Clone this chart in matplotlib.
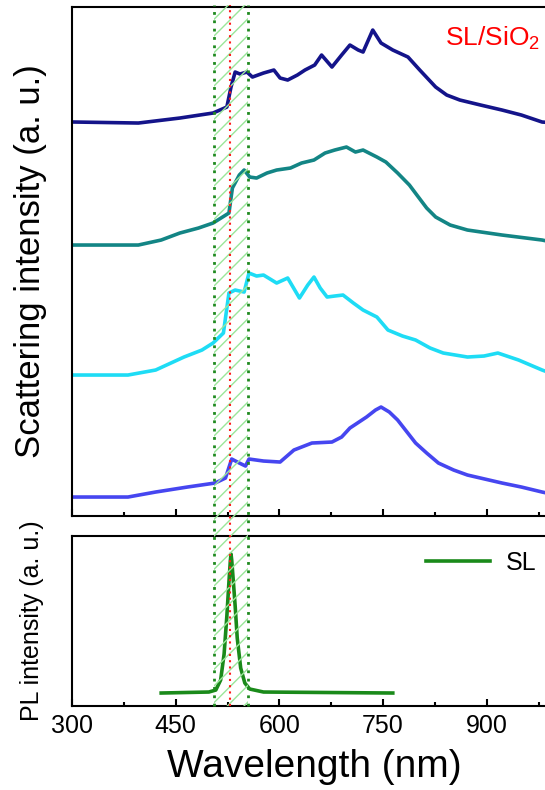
import numpy as np
import matplotlib
matplotlib.use("Agg")
import matplotlib.pyplot as plt
from matplotlib.patches import Rectangle
from matplotlib.lines import Line2D
from matplotlib.ticker import MultipleLocator
import matplotlib.transforms as mtransforms

plt.rcParams['font.family'] = ['Liberation Sans', 'DejaVu Sans']
plt.rcParams['mathtext.default'] = 'regular'
plt.rcParams['hatch.linewidth'] = 1.0

# scattering spectra (a. u.)
wl_navy = [304, 396, 456, 504, 524, 530, 536, 543, 553, 561, 577, 592, 601, 612, 626, 637, 651, 661,
           676, 690, 702, 714, 721, 735, 747, 764, 786, 803, 826, 842, 861, 891, 922, 950, 980, 1000]
sc_navy = [394, 393, 398, 403, 409, 429, 444, 442, 444, 439, 443, 446, 438, 436, 441, 446, 451, 461,
           449, 461, 471, 466, 464, 486, 473, 466, 459, 446, 429, 421, 416, 411, 406, 401, 394, 393]

wl_teal = [304, 396, 429, 456, 483, 504, 527, 532, 542, 549, 557, 567, 582, 596, 616, 632, 650,
           666, 680, 697, 710, 721, 741, 754, 771, 788, 801, 813, 826, 847, 872, 922, 980, 1000]
sc_teal = [271, 271, 276, 283, 288, 293, 303, 328, 341, 346, 339, 338, 343, 346, 348, 353, 356,
           363, 366, 369, 364, 366, 359, 354, 343, 331, 319, 308, 299, 291, 286, 281, 276, 273]

wl_cyan = [304, 381, 421, 462, 488, 504, 519, 527, 536, 549, 556, 567, 577, 596, 612, 629, 641, 650,
           659, 669, 680, 692, 707, 721, 741, 757, 778, 797, 818, 837, 872, 896, 916, 946, 980, 1000]
sc_cyan = [141, 141, 146, 159, 166, 173, 183, 223, 226, 224, 243, 240, 241, 233, 238, 218, 231, 239,
           228, 219, 220, 221, 213, 206, 199, 186, 180, 176, 168, 163, 159, 160, 163, 156, 146, 141]

wl_blue = [304, 381, 421, 467, 507, 522, 531, 542, 551, 556, 577, 601, 621, 647, 676, 690,
           702, 726, 739, 747, 759, 771, 797, 813, 830, 852, 872, 922, 950, 980, 1000]
sc_blue = [19, 19, 24, 29, 33, 38, 57, 53, 50, 57, 55, 54, 66, 73, 74, 79,
           88, 99, 106, 109, 104, 96, 73, 63, 53, 46, 41, 33, 29, 24, 21]

# PL spectrum of SL
wl_pl = [429, 498, 508, 515, 520, 524, 527, 529, 530, 531, 533, 536, 539, 544, 550, 557, 577, 764]
pl = [13, 14, 16, 26, 52, 90, 124, 145, 152, 146, 128, 100, 68, 38, 23, 17, 14, 13]

band = (506, 554)
red_line = 529

fig = plt.figure(figsize=(5.45, 7.9), dpi=100)
ax_top = fig.add_axes([0.1321, 0.3468, 0.888, 0.6443])
ax_bot = fig.add_axes([0.1321, 0.1063, 0.888, 0.2152])

ax_top.plot(wl_navy, sc_navy, color='#14148a', lw=2.6)
ax_top.plot(wl_teal, sc_teal, color='#138585', lw=2.6)
ax_top.plot(wl_cyan, sc_cyan, color='#1edcf5', lw=2.6)
ax_top.plot(wl_blue, sc_blue, color='#4646f0', lw=2.6)
ax_top.set_ylim(0, 509)
ax_top.text(840, 470, 'SL/SiO$_2$', color='red', fontsize=19, ha='left', va='baseline')
ax_top.set_ylabel('Scattering intensity (a. u.)', fontsize=25, labelpad=18)

ax_bot.plot(wl_pl, pl, color='#1a8a1a', lw=2.6, label='SL')
ax_bot.set_ylim(0, 170)
ax_bot.set_ylabel('PL intensity (a. u.)', fontsize=18, labelpad=20)
ax_bot.set_xlabel('Wavelength (nm)', fontsize=28, labelpad=8)
ax_bot.legend(loc='center left', bbox_to_anchor=(0.7817, 0.2873), bbox_transform=fig.transFigure,
              frameon=False, borderpad=0, borderaxespad=0, handlelength=2.56,
              handletextpad=0.64, fontsize=18)

for ax in (ax_top, ax_bot):
    ax.set_xlim(300, 1000)
    ax.xaxis.set_major_locator(MultipleLocator(150))
    ax.xaxis.set_minor_locator(MultipleLocator(75))
    ax.set_yticks([])
    ax.tick_params(axis='x', which='major', direction='in', length=5, width=1.5,
                   labelsize=18, pad=6)
    ax.tick_params(axis='x', which='minor', direction='in', length=3, width=1.5)
    for s in ax.spines.values():
        s.set_linewidth(1.5)
ax_top.tick_params(axis='x', labelbottom=False)

# highlighted band across both panels
trans = mtransforms.blended_transform_factory(ax_bot.transData, fig.transFigure)
y0, y1 = 0.1063, 0.9935
fig.add_artist(Rectangle((band[0], y0), band[1] - band[0], y1 - y0, transform=trans,
                         facecolor='none', edgecolor='#9ae69a', lw=0, hatch='//', zorder=3))
for x in band:
    fig.add_artist(Line2D([x, x], [y0, y1], transform=trans, color='#1f8a1f',
                          ls=(0, (1, 2)), lw=2, zorder=4))
fig.add_artist(Line2D([red_line, red_line], [y0, y1], transform=trans, color='#ff1a1a',
                      ls=(0, (1, 2)), lw=1.5, zorder=4))

fig.savefig('out.png', dpi=100)
